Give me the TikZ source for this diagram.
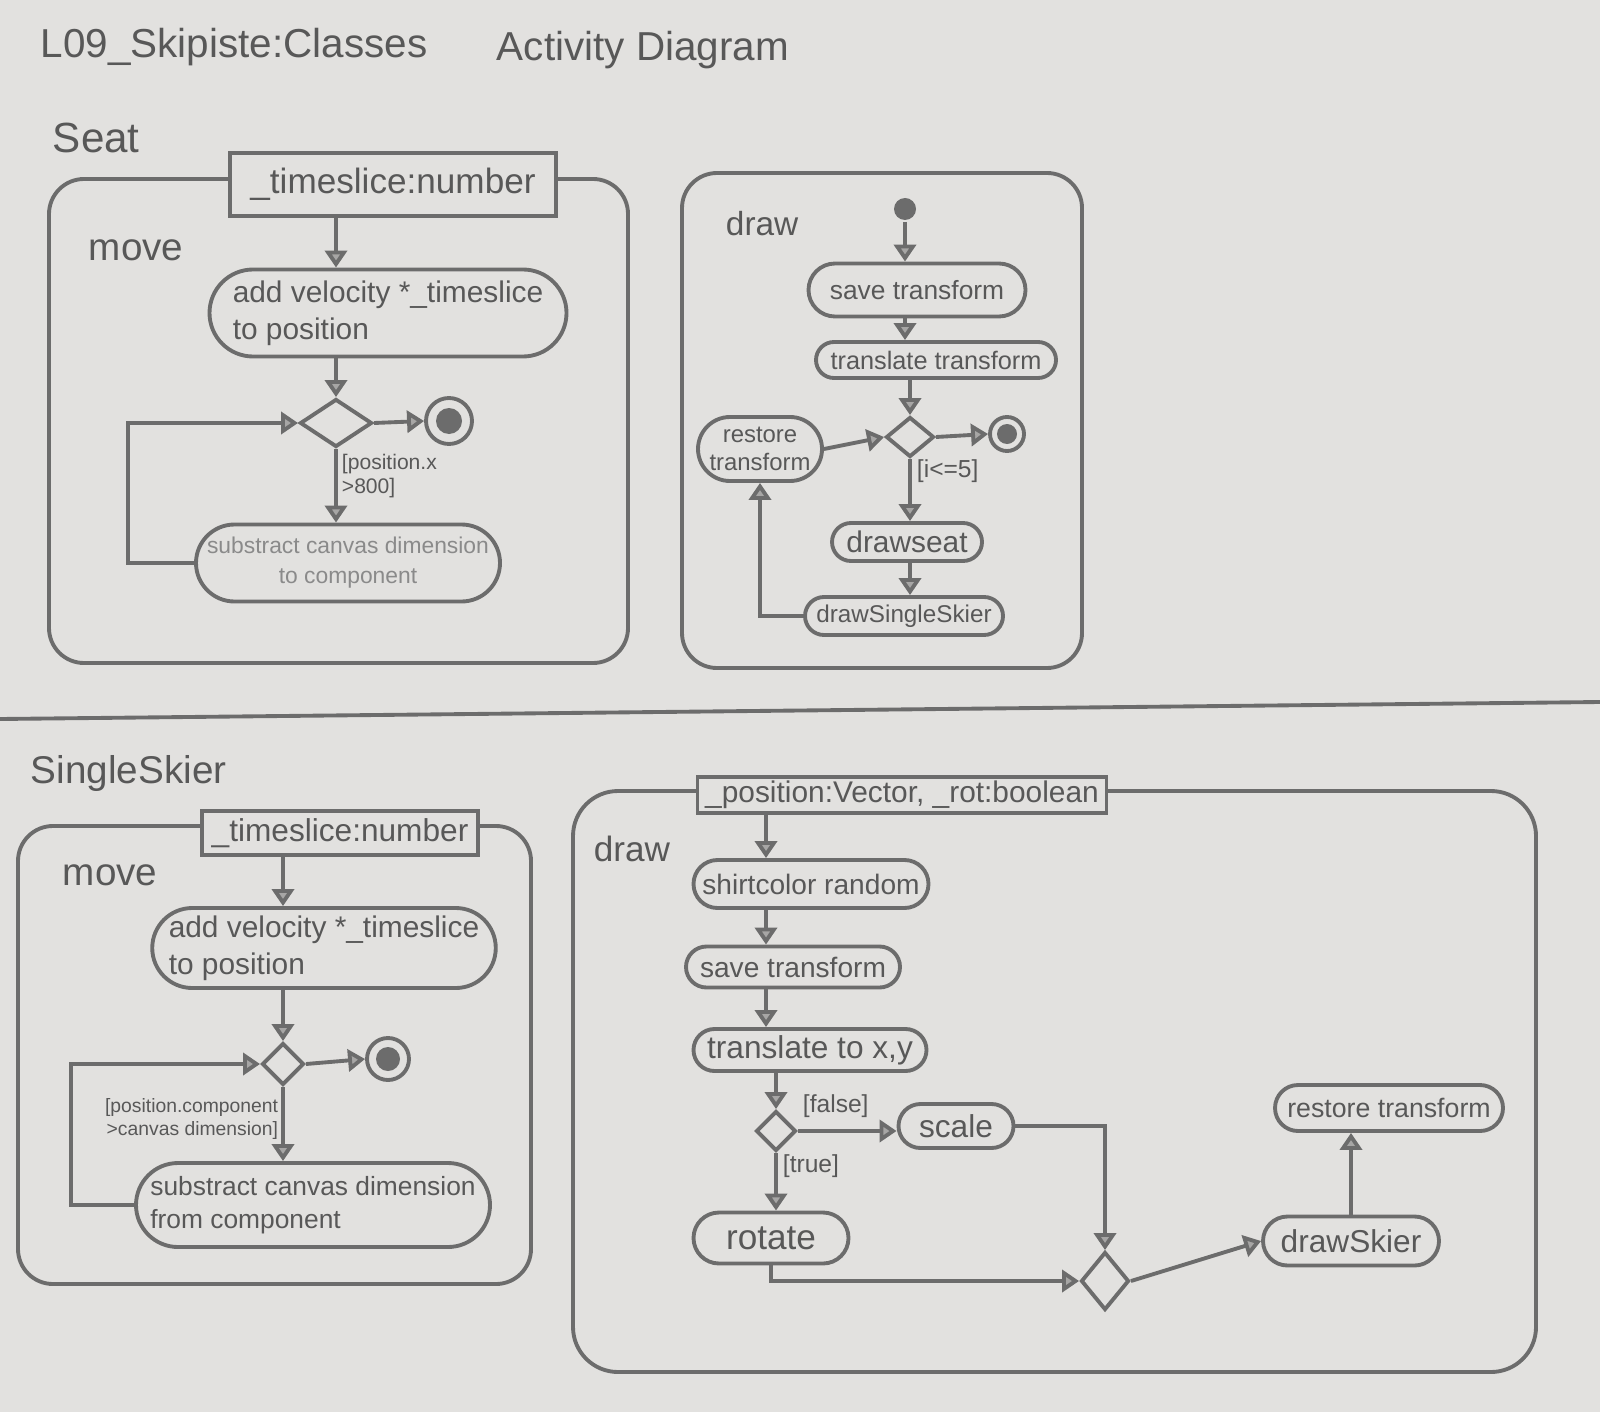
\documentclass[tikz,border=0pt]{standalone}
\usepackage{fontspec}
\setmainfont{Liberation Sans}
\usetikzlibrary{shapes.geometric,shapes.misc,arrows.meta}
\definecolor{paper}{RGB}{226,225,223}
\definecolor{pencil}{RGB}{108,108,108}
\definecolor{ink}{RGB}{88,88,88}
\definecolor{faint}{RGB}{138,138,138}
\newcommand\fsz[2]{\fontsize{#1}{#2}\selectfont}

\begin{document}
\begin{tikzpicture}[x=1cm,y=1cm,
  line width=1.1pt,
  >={Triangle[length=1.7mm,width=2.2mm,fill=pencil!50!paper]},
  flow/.style={draw=pencil,->},
  act/.style 2 args={rounded rectangle,draw=pencil,minimum width=#1 cm,minimum height=#2 cm,inner sep=0pt,text=ink},
  panel/.style={draw=pencil,rounded corners=0.35cm},
  param/.style 2 args={rectangle,draw=pencil,fill=paper,minimum width=#1 cm,minimum height=#2 cm,inner sep=0pt,text=ink},
  decision/.style 2 args={diamond,draw=pencil,minimum width=#1 cm,minimum height=#2 cm,inner sep=0pt},
  startdot/.style={circle,fill=pencil,minimum size=#1 cm,inner sep=0pt},
  endnode/.style 2 args={circle,draw=pencil,minimum size=#1 cm,inner sep=0pt,
    path picture={\fill[pencil] (path picture bounding box.center) circle (#2 cm);}},
  lbl/.style={text=ink,inner sep=0pt,anchor=west},
  guard/.style={text=ink,inner sep=0pt,align=left},
]
% sheet
\fill[paper] (0,0) rectangle (16,-14.12);
\useasboundingbox (0,0) rectangle (16,-14.12);

% headings
\node[lbl,font=\fsz{11.5}{13}] (title) at (0.39,-0.47) {L09\_Skipiste:Classes};
\node[lbl,font=\fsz{11.5}{13}] (kind) at (4.95,-0.50) {Activity Diagram};
\node[lbl,font=\fsz{12}{14}] (seatcls) at (0.51,-1.38) {Seat};

% ---------- Seat.move ----------
\draw[panel] (0.49,-1.79) rectangle (6.28,-6.63);
\node[param={3.26}{0.63},font=\fsz{10}{12}] (pSeat) at (3.93,-1.845) {\_timeslice:number};
\node[lbl,font=\fsz{11}{13}] (mvSeat) at (0.87,-2.50) {move};
\node[act={3.57}{0.87},align=left,font=\fsz{8.5}{10.5}] (a1) at (3.88,-3.13) {add velocity *\_timeslice\\to position};
\node[decision={0.72}{0.48}] (d1) at (3.36,-4.23) {};
\node[endnode={0.46}{0.13}] (f1) at (4.49,-4.21) {};
\node[guard,font=\fsz{6}{7}] (g1) at (3.40,-4.52) [anchor=north west] {[position.x\\>800]};
\node[act={3.04}{0.77},align=center,font=\fsz{6.5}{8.5},text=faint] (a2) at (3.48,-5.63) {substract canvas dimension\\to component};
\coordinate (lp1) at (1.28,-5.0);
\draw[flow] (pSeat.south -| d1) -- (d1 |- a1.north);
\draw[flow] (a1.south -| d1) -- (d1.north);
\draw[flow] (d1.east) -- (f1.west);
\draw[flow] (d1.south) -- (d1 |- a2.north);
\draw[flow] (a2.west) -- (a2.west -| lp1) -- (lp1 |- d1) -- (d1.west);

% ---------- Seat.draw ----------
\draw[panel] (6.82,-1.73) rectangle (10.82,-6.68);
\node[lbl,font=\fsz{9.5}{11}] (drSeat) at (7.24,-2.24) {draw};
\node[startdot={0.22}] (i1) at (9.05,-2.09) {};
\node[act={2.17}{0.53},font=\fsz{7.5}{9}] (s1) at (9.17,-2.90) {save transform};
\node[act={2.40}{0.36},font=\fsz{7.2}{9}] (s2) at (9.36,-3.60) {translate transform};
\node[decision={0.48}{0.40}] (d2) at (9.10,-4.37) {};
\node[endnode={0.34}{0.10}] (f2) at (10.07,-4.34) {};
\node[act={1.24}{0.64},align=center,font=\fsz{6.8}{8}] (r1) at (7.60,-4.49) {restore\\transform};
\node[guard,font=\fsz{7}{8},anchor=west] (g2) at (9.15,-4.71) {[i<=5]};
\node[act={1.50}{0.38},font=\fsz{8.5}{10}] (s3) at (9.07,-5.42) {drawseat};
\node[act={1.98}{0.38},font=\fsz{6.9}{8}] (s4) at (9.04,-6.16) {drawSingleSkier};
\draw[flow] (i1) -- (i1 |- s1.north);
\draw[flow] (s1.south -| i1) -- (i1 |- s2.north);
\draw[flow] (s2.south -| d2) -- (d2.north);
\draw[flow] (d2.east) -- (f2.west);
\draw[flow] (r1.east) -- (d2.west);
\draw[flow] (d2.south) -- (d2 |- s3.north);
\draw[flow] (s3.south -| d2) -- (d2 |- s4.north);
\draw[flow] (s4.west) -| (r1.south);

% divider between the two classes
\draw[pencil] (0,-7.19) -- (16,-7.02);

\node[lbl,font=\fsz{11}{13}] (skiercls) at (0.29,-7.73) {SingleSkier};

% ---------- SingleSkier.move ----------
\draw[panel] (0.18,-8.26) rectangle (5.31,-12.84);
\node[param={2.76}{0.44},font=\fsz{9}{11}] (p2) at (3.40,-8.33) {\_timeslice:number};
\node[lbl,font=\fsz{11}{13}] (mvSkier) at (0.61,-8.75) {move};
\node[act={3.32}{0.80},align=left,font=\fsz{8.5}{10.5}] (b1) at (3.24,-9.48) {add velocity *\_timeslice\\to position};
\node[decision={0.42}{0.42}] (d3) at (2.83,-10.64) {};
\node[endnode={0.42}{0.12}] (f3) at (3.88,-10.59) {};
\node[guard,font=\fsz{5.5}{6.5},align=right,anchor=north east] (g3) at (2.80,-10.97) {[position.component\\>canvas dimension]};
\node[act={3.54}{0.84},align=left,font=\fsz{7.5}{9.5}] (b2) at (3.13,-12.05) {substract canvas dimension\\from component};
\coordinate (lp2) at (0.71,-11.5);
\draw[flow] (p2.south -| d3) -- (d3 |- b1.north);
\draw[flow] (b1.south -| d3) -- (d3.north);
\draw[flow] (d3.east) -- (f3.west);
\draw[flow] (d3.south) -- (d3 |- b2.north);
\draw[flow] (b2.west) -- (b2.west -| lp2) -- (lp2 |- d3) -- (d3.west);

% ---------- SingleSkier.draw ----------
\draw[panel,rounded corners=0.45cm] (5.73,-7.91) rectangle (15.36,-13.72);
\node[param={4.09}{0.36},font=\fsz{8.5}{10}] (p3) at (9.02,-7.95) {\_position:Vector, \_rot:boolean};
\node[lbl,font=\fsz{10}{12}] (drSkier) at (5.92,-8.49) {draw};
\node[act={2.35}{0.48},font=\fsz{8}{9.5}] (c1) at (8.11,-8.84) {shirtcolor random};
\node[act={2.14}{0.41},font=\fsz{8}{9.5}] (c2) at (7.93,-9.67) {save transform};
\node[act={2.33}{0.42},font=\fsz{9}{10.5}] (c3) at (8.10,-10.50) {translate to x,y};
\node[decision={0.40}{0.40}] (d4) at (7.76,-11.31) {};
\node[guard,font=\fsz{7}{8},anchor=west] (g4) at (8.01,-11.06) {[false]};
\node[act={1.15}{0.44},font=\fsz{9}{10.5}] (c4) at (9.56,-11.26) {scale};
\node[guard,font=\fsz{7}{8},anchor=west] (g5) at (7.81,-11.66) {[true]};
\node[act={1.55}{0.51},font=\fsz{10}{12}] (c5) at (7.71,-12.38) {rotate};
\node[decision={0.48}{0.58}] (d5) at (11.05,-12.81) {};
\node[act={1.76}{0.49},font=\fsz{9}{10.5}] (c6) at (13.51,-12.41) {drawSkier};
\node[act={2.28}{0.46},font=\fsz{7.6}{9}] (c7) at (13.89,-11.08) {restore transform};
\coordinate (colx) at (7.66,-9.0);
\draw[flow] (p3.south -| colx) -- (colx |- c1.north);
\draw[flow] (c1.south -| colx) -- (colx |- c2.north);
\draw[flow] (c2.south -| colx) -- (colx |- c3.north);
\draw[flow] (c3.south -| d4) -- (d4.north);
\draw[flow] (d4.east) -- (d4.east -| c4.west);
\draw[flow] (d4.south) -- (d4 |- c5.north);
\draw[flow] (c5.south) |- (d5.west);
\draw[flow] (c4.east) -| (d5.north);
\draw[flow] (d5.east) -- (c6.west);
\draw[flow] (c6.north) -- (c6.north |- c7.south);
\end{tikzpicture}
\end{document}
